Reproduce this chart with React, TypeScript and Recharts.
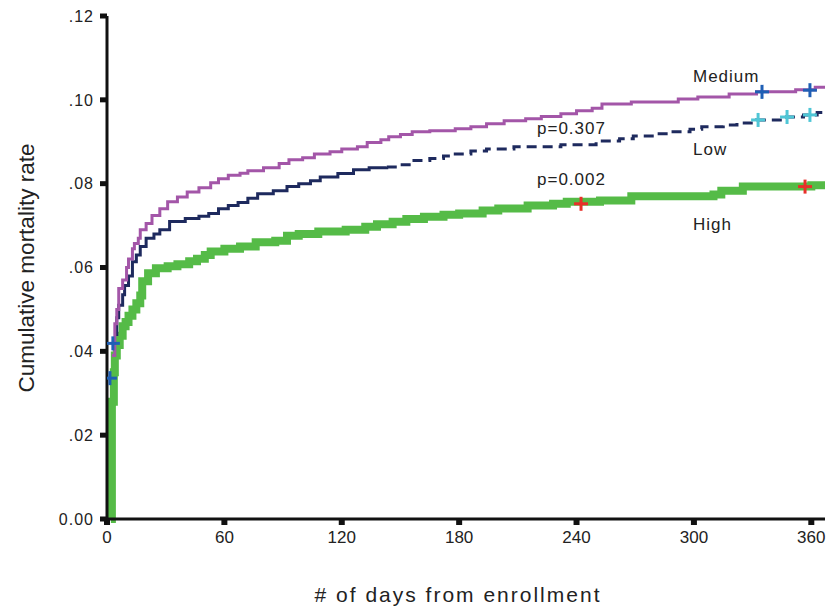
import React from "react";
import { ComposedChart, Line, Scatter, XAxis, YAxis } from "recharts";

type Pt = { day: number; v: number };
const pts = (rows: number[][]): Pt[] => rows.map(([day, v]) => ({ day, v }));

const xTicks = [0, 60, 120, 180, 240, 300, 360];
const yTicks = [0, 0.02, 0.04, 0.06, 0.08, 0.1, 0.12];

// Kaplan-Meier style curves: [day, cumulative mortality]
const mediumRows = [
  [2.5, 0.039], [4, 0.0466], [5, 0.05], [6, 0.055], [8, 0.057], [10, 0.06], [11, 0.062],
  [13, 0.0645], [14, 0.0657], [16, 0.067], [17, 0.069], [20, 0.0705], [23, 0.0724],
  [27, 0.074], [31, 0.0757], [36, 0.0768], [41, 0.078], [47, 0.079], [53, 0.0802],
  [57, 0.0812], [62, 0.082], [68, 0.0825], [72, 0.0831], [80, 0.0838], [88, 0.0848],
  [93, 0.0857], [100, 0.0862], [106, 0.0871], [114, 0.0876], [120, 0.0883], [128, 0.0888],
  [133, 0.0898], [140, 0.0905], [144, 0.0912], [150, 0.0917], [156, 0.0924], [165, 0.0926],
  [178, 0.0931], [186, 0.0936], [194, 0.0943], [203, 0.095], [214, 0.0955], [222, 0.096],
  [232, 0.0967], [240, 0.0974], [248, 0.098], [253, 0.099], [268, 0.0995], [292, 0.1002],
  [302, 0.1007], [318, 0.1014], [332, 0.1019], [352, 0.1024], [362, 0.103], [367, 0.1033],
];

const lowEarlyRows = [
  [4, 0.044], [5, 0.048], [6, 0.051], [8, 0.0535], [9, 0.0557], [11, 0.058], [13, 0.0614],
  [15, 0.063], [17, 0.065], [20, 0.067], [24, 0.068], [27, 0.069], [32, 0.071], [40, 0.0717],
  [47, 0.0722], [52, 0.0729], [57, 0.074], [62, 0.0748], [67, 0.0755], [72, 0.0765],
  [77, 0.0776], [85, 0.0783], [92, 0.0793], [98, 0.08], [104, 0.0807], [109, 0.0816],
  [118, 0.0824], [126, 0.0833], [134, 0.0838], [143, 0.084],
];

const lowLateRows = [
  [143, 0.084], [150, 0.0845], [156, 0.0855], [165, 0.086], [172, 0.0866], [177, 0.0871],
  [186, 0.0878], [194, 0.0883], [208, 0.0888], [232, 0.0893], [250, 0.0902], [262, 0.0907],
  [269, 0.0914], [280, 0.0919], [287, 0.0924], [298, 0.093], [304, 0.0936], [315, 0.094],
  [322, 0.0945], [332, 0.0952], [345, 0.0959], [356, 0.0964], [363, 0.097], [367, 0.0974],
];

const highRows = [
  [2, 0], [2.5, 0.028], [3.5, 0.035], [4, 0.039], [5, 0.0415], [6.5, 0.0437], [8, 0.046],
  [9.5, 0.047], [11, 0.0485], [13, 0.05], [15, 0.0515], [17, 0.0533], [18, 0.0567],
  [21, 0.0586], [25, 0.0598], [31, 0.0603], [36, 0.0608], [42, 0.0615], [46, 0.0621],
  [50, 0.063], [53, 0.0638], [60, 0.0645], [68, 0.065], [76, 0.066], [86, 0.0664],
  [92, 0.0676], [98, 0.068], [108, 0.0686], [122, 0.069], [132, 0.0697], [138, 0.0703],
  [146, 0.0709], [153, 0.0716], [162, 0.0721], [172, 0.0726], [180, 0.0729], [192, 0.0736],
  [200, 0.0741], [215, 0.0748], [228, 0.0752], [235, 0.0757], [252, 0.076], [268, 0.077],
  [310, 0.0774], [314, 0.0783], [325, 0.0793], [360, 0.0796], [367, 0.0802],
];

// censoring marks
const blueMarks = [[1.5, 0.0336], [3, 0.0419], [334.8, 0.1019], [359.3, 0.1023]];
const cyanMarks = [[332.8, 0.0952], [347.6, 0.0959], [359.3, 0.0964]];
const redMarks = [[242.3, 0.0752], [356.8, 0.0793]];

const medium = pts(mediumRows);
const lowEarly = pts(lowEarlyRows);
const lowLate = pts(lowLateRows);
const high = pts(highRows);

const font = '"Liberation Sans", Arial, sans-serif';

const plus = (color: string) => (props: any) => {
  const { cx, cy } = props;
  return (
    <g stroke={color} strokeWidth={3}>
      <line x1={cx - 7} x2={cx + 7} y1={cy} y2={cy} />
      <line x1={cx} x2={cx} y1={cy - 7} y2={cy + 7} />
    </g>
  );
};

const fmtY = (v: number) => (v === 0 ? "0.00" : "." + Math.round(v * 100).toString().padStart(2, "0"));

const note: React.CSSProperties = {
  position: "absolute",
  fontFamily: font,
  fontSize: 17,
  letterSpacing: 1,
  color: "#222",
  lineHeight: "18px",
  whiteSpace: "nowrap",
};

export default function App() {
  return (
    <div style={{ position: "absolute", left: 0, top: 0, width: 826, height: 608, background: "#fff" }}>
      <ComposedChart width={826} height={608} margin={{ top: 16, right: 1, bottom: 0, left: 0 }}>
        <XAxis
          type="number"
          dataKey="day"
          domain={[0, 367]}
          ticks={xTicks}
          allowDataOverflow
          height={89}
          axisLine={{ stroke: "#111", strokeWidth: 3 }}
          tickLine={{ stroke: "#111", strokeWidth: 6 }}
          tickSize={6}
          tickMargin={6}
          tick={{ fill: "#222", fontSize: 17, fontFamily: font }}
        />
        <YAxis
          type="number"
          domain={[0, 0.12]}
          ticks={yTicks}
          width={107}
          axisLine={{ stroke: "#111", strokeWidth: 3 }}
          tickLine={{ stroke: "#111", strokeWidth: 5 }}
          tickSize={7}
          tickMargin={6}
          tickFormatter={fmtY}
          tick={{ fill: "#222", fontSize: 16, fontFamily: font, letterSpacing: 1 }}
        />
        <Line data={high} dataKey="v" type="stepAfter" stroke="#55bb47" strokeWidth={8} dot={false} activeDot={false} isAnimationActive={false} />
        <Line data={lowEarly} dataKey="v" type="stepAfter" stroke="#1e2a5e" strokeWidth={3} dot={false} activeDot={false} isAnimationActive={false} />
        <Line data={lowLate} dataKey="v" type="stepAfter" stroke="#1e2a5e" strokeWidth={3} strokeDasharray="10 6" dot={false} activeDot={false} isAnimationActive={false} />
        <Line data={medium} dataKey="v" type="stepAfter" stroke="#a356a8" strokeWidth={3} dot={false} activeDot={false} isAnimationActive={false} />
        <Scatter data={pts(blueMarks)} dataKey="v" shape={plus("#1f5fb5")} isAnimationActive={false} />
        <Scatter data={pts(cyanMarks)} dataKey="v" shape={plus("#4fc6d6")} isAnimationActive={false} />
        <Scatter data={pts(redMarks)} dataKey="v" shape={plus("#e8302a")} isAnimationActive={false} />
      </ComposedChart>
      <div style={{ ...note, left: 693, top: 68 }}>Medium</div>
      <div style={{ ...note, left: 537, top: 120 }}>p=0.307</div>
      <div style={{ ...note, left: 693, top: 141 }}>Low</div>
      <div style={{ ...note, left: 537, top: 171 }}>p=0.002</div>
      <div style={{ ...note, left: 693, top: 216 }}>High</div>
      <div
        style={{
          position: "absolute",
          left: 27,
          top: 268,
          transform: "translate(-50%, -50%) rotate(-90deg)",
          fontFamily: font,
          fontSize: 22.5,
          color: "#222",
          whiteSpace: "nowrap",
        }}
      >
        Cumulative mortality rate
      </div>
      <div
        style={{
          position: "absolute",
          left: 458,
          top: 595,
          transform: "translate(-50%, -50%)",
          fontFamily: font,
          fontSize: 21,
          letterSpacing: 2,
          color: "#222",
          whiteSpace: "nowrap",
        }}
      >
        # of days from enrollment
      </div>
    </div>
  );
}
